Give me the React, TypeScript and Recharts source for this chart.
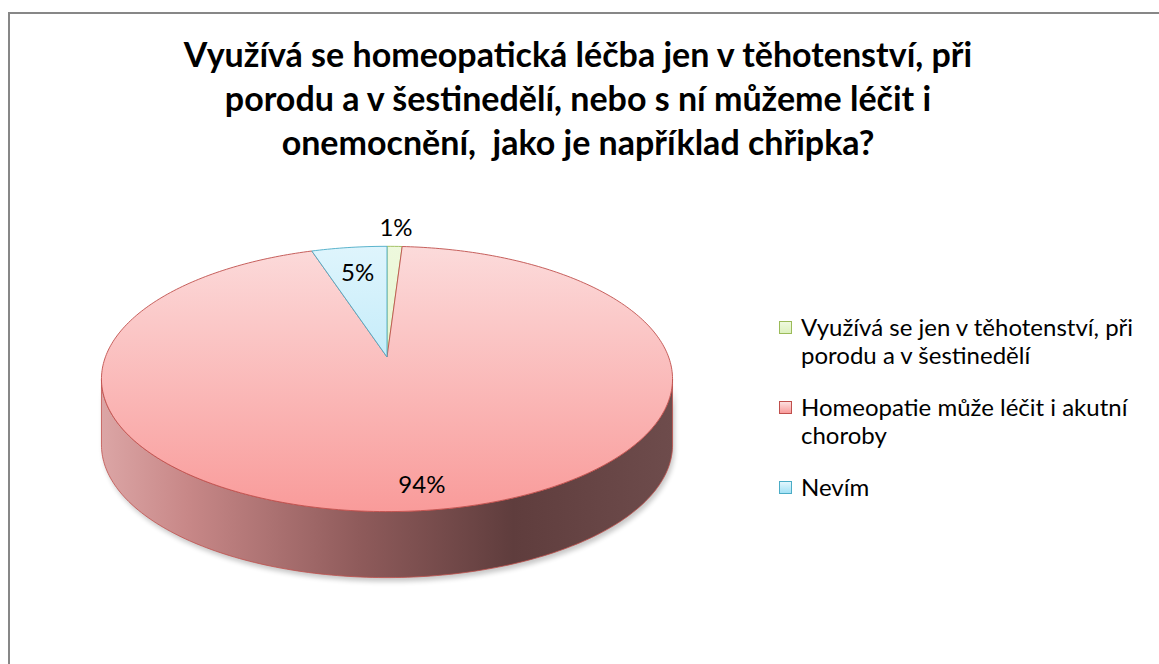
import React from "react";
import { PieChart, Pie, Cell, Legend } from "recharts";

// answers and their share of respondents (%)
const categories = [
  "Využívá se jen v těhotenství, při porodu a v šestinedělí",
  "Homeopatie může léčit i akutní choroby",
  "Nevím",
];
const shares = [1, 94, 5];

const titleLines = [
  "Využívá se homeopatická léčba jen v těhotenství, při",
  "porodu a v šestinedělí, nebo s ní můžeme léčit i",
  "onemocnění,  jako je například chřipka?",
];

const data = categories.map((name, i) => ({ name, value: shares[i] }));

// colours (Excel 2007 palette)
const TOP_FILL = [
  ["#eff9df", "#ddf1bf"],
  ["#fcdfdf", "#f99b9a"],
  ["#e3f6fd", "#a2e1f5"],
];
const EDGE = ["#9bbb59", "#c0504d", "#4bacc6"];
const LABEL_RADIUS = [1.22, 0.85, 0.75];

// fake 3D: perspective tilt, x/y stretch, side depth
const K = 0.1655;
const XR = 2.183;
const DEPTH = 66;
const FONT = "Lato, 'Open Sans', sans-serif";

const RAD = Math.PI / 180;
const proj = (cx: number, cy: number, r: number, deg: number, f: number) => {
  const u = f * Math.cos(deg * RAD);
  const v = -f * Math.sin(deg * RAD);
  const w = 1 / (1 - K * v);
  return [cx + r * XR * u * w, cy + r * v * w];
};

const FRONT_LO = -180 + Math.asin(K) / RAD;
const FRONT_HI = -Math.asin(K) / RAD;

const arcPoints = (cx: number, cy: number, r: number, from: number, to: number, dy = 0) => {
  const n = Math.max(2, Math.ceil(Math.abs(to - from)));
  const pts: string[] = [];
  for (let i = 0; i <= n; i++) {
    const a = from + ((to - from) * i) / n;
    const [x, y] = proj(cx, cy, r, a, 1);
    pts.push(`${x.toFixed(2)},${(y + dy).toFixed(2)}`);
  }
  return pts;
};

const Slice3D = (props: any) => {
  const { cx, cy, outerRadius, startAngle, endAngle, index } = props;
  const lo0 = Math.min(startAngle, endAngle);
  const hi0 = Math.max(startAngle, endAngle);
  const sides: string[] = [];
  for (const k of [0, 360, -360]) {
    const lo = Math.max(lo0 + k, FRONT_LO);
    const hi = Math.min(hi0 + k, FRONT_HI);
    if (hi > lo) {
      const top = arcPoints(cx, cy, outerRadius, hi, lo);
      const bottom = arcPoints(cx, cy, outerRadius, lo, hi, DEPTH);
      sides.push(`M${top.join(" L")} L${bottom.join(" L")} Z`);
    }
  }
  const rim = arcPoints(cx, cy, outerRadius, startAngle, endAngle);
  const topPath = `M${cx},${cy} L${rim.join(" L")} Z`;
  const left = cx - outerRadius * XR * 1.02;
  const right = cx + outerRadius * XR * 1.02;
  return (
    <g>
      <defs>
        <linearGradient id={`top-${index}`} x1="0" y1={cy - outerRadius} x2="0" y2={cy + outerRadius * 1.2} gradientUnits="userSpaceOnUse">
          <stop offset="0" stopColor={TOP_FILL[index][0]} />
          <stop offset="1" stopColor={TOP_FILL[index][1]} />
        </linearGradient>
        <linearGradient id={`side-${index}`} x1={left} y1="0" x2={right} y2="0" gradientUnits="userSpaceOnUse">
          <stop offset="0" stopColor="#dca6a6" />
          <stop offset="0.15" stopColor="#c88888" />
          <stop offset="0.45" stopColor="#8f5b5b" />
          <stop offset="0.72" stopColor="#5f3d3d" />
          <stop offset="1" stopColor="#6e4c4c" />
        </linearGradient>
        <filter id={`shadow-${index}`} x="-10%" y="-10%" width="120%" height="130%">
          <feGaussianBlur stdDeviation="2.5" />
        </filter>
      </defs>
      {sides.map((d, i) => (
        <path key={`s${i}`} d={d} transform="translate(2,4)" fill="#000" opacity={0.22} filter={`url(#shadow-${index})`} />
      ))}
      {sides.map((d, i) => (
        <path key={i} d={d} fill={`url(#side-${index})`} stroke={EDGE[index]} strokeWidth={0.8} />
      ))}
      <path d={topPath} fill={`url(#top-${index})`} stroke={EDGE[index]} strokeWidth={0.9} strokeLinejoin="round" />
    </g>
  );
};

const renderLabel = (props: any) => {
  const { cx, cy, midAngle, outerRadius, percent, index } = props;
  const [x, y] = proj(cx, cy, outerRadius, midAngle, LABEL_RADIUS[index]);
  return (
    <text x={x} y={y} textAnchor="middle" dominantBaseline="central" fill="#000" fontFamily={FONT} fontSize={24}>
      {`${Math.round(percent * 100)}%`}
    </text>
  );
};

// legend keeps the series order (recharts would sort it by name)
const renderLegend = () => (
  <div style={{ fontFamily: FONT, fontSize: 24, lineHeight: "28px", color: "#000" }}>
    {categories.map((name, i) => (
      <div key={name} style={{ display: "flex", alignItems: "flex-start", marginBottom: 24 }}>
        <span
          style={{
            width: 11,
            height: 11,
            flexShrink: 0,
            marginTop: 8,
            marginRight: 9,
            border: `1px solid ${EDGE[i]}`,
            background: `linear-gradient(${TOP_FILL[i][0]}, ${TOP_FILL[i][1]})`,
          }}
        />
        <span>{name}</span>
      </div>
    ))}
  </div>
);

const App: React.FC = () => {
  return (
    <div style={{ position: "fixed", left: 0, top: 0, width: 1159, height: 664, background: "#fff", overflow: "hidden" }}>
      <div
        style={{
          position: "absolute",
          left: 8,
          top: 12,
          width: 1200,
          height: 700,
          borderLeft: "2px solid #878787",
          borderTop: "2px solid #878787",
        }}
      />
      <svg width={1159} height={200} style={{ position: "absolute", left: 0, top: 0 }}>
        {titleLines.map((line, i) => (
          <text
            key={i}
            x={578}
            y={67 + i * 44}
            textAnchor="middle"
            fontFamily={FONT}
            fontWeight="bold"
            fontSize={34}
            fill="#000"
            style={{ whiteSpace: "pre" }}
          >
            {line}
          </text>
        ))}
      </svg>
      <div style={{ position: "absolute", left: 0, top: 0 }}>
        <PieChart width={1159} height={664} margin={{ top: 0, right: 0, bottom: 0, left: 0 }}>
          <Pie
            data={data}
            dataKey="value"
            nameKey="name"
            cx={387}
            cy={357}
            outerRadius={129}
            startAngle={90}
            endAngle={-270}
            stroke="none"
            shape={Slice3D}
            label={renderLabel}
            labelLine={false}
            isAnimationActive={false}
          >
            {data.map((d, i) => (
              <Cell key={d.name} fill={EDGE[i]} />
            ))}
          </Pie>
          <Legend
            layout="vertical"
            align="right"
            verticalAlign="middle"
            content={renderLegend}
            wrapperStyle={{ left: 779, top: 313, width: 380 }}
          />
        </PieChart>
      </div>
    </div>
  );
};

export default App;
